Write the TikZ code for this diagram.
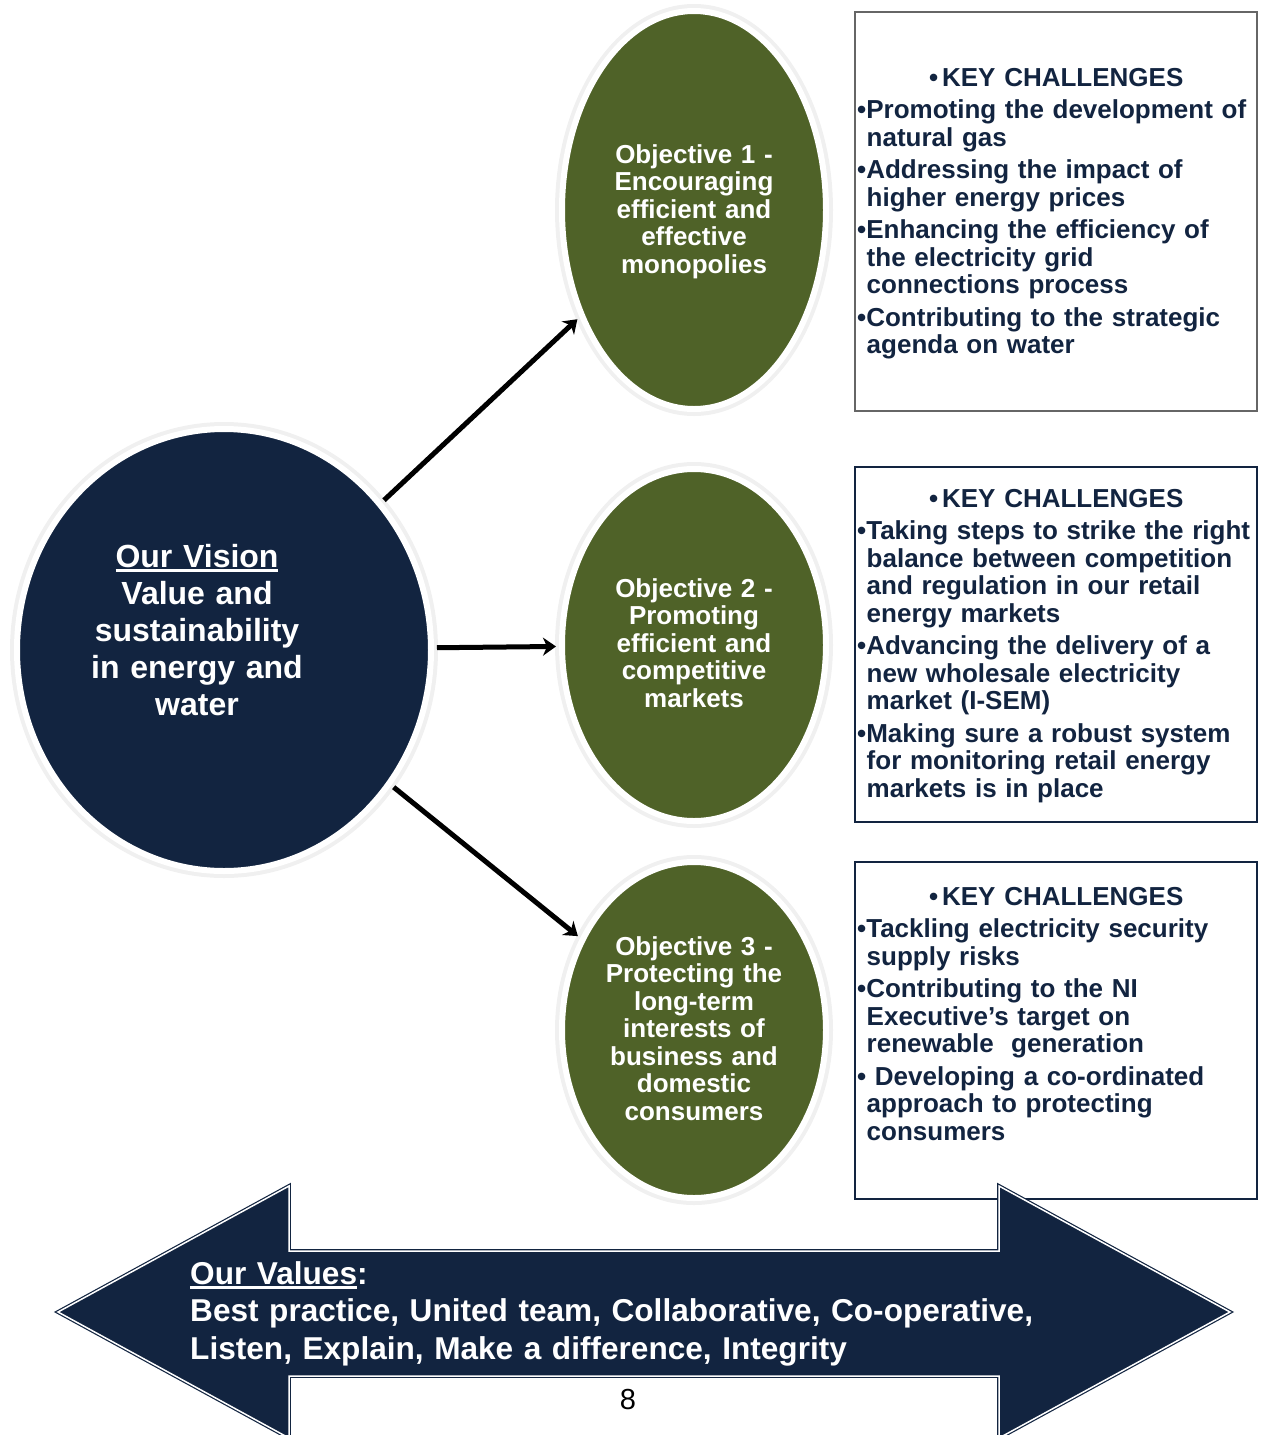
\documentclass[tikz,border=0pt]{standalone}
\usepackage{fontspec}
\setmainfont{Liberation Sans}
\usetikzlibrary{shapes.geometric,arrows.meta}

\definecolor{navy}{RGB}{18,36,64}
\definecolor{olive}{RGB}{79,98,40}

% underline with a fixed rule below the baseline
\newlength\ulw
\newcommand\ulined[1]{\settowidth\ulw{#1}\rlap{\rule[-5pt]{\ulw}{2.6pt}}#1}
% bullet item whose later lines hang under the text
\newcommand\kitem{\par\hangindent=9.5pt\hangafter=1\noindent}
% heading line of a challenges box
\newcommand\kchead{\hbox to 398pt{\hss\textbullet\kern4pt KEY CHALLENGES\hss}}

\begin{document}
\begin{tikzpicture}[x=1pt,y=-1pt,
  halo/.style={fill=black!6},
  vision/.style={ellipse, fill=navy, draw=white, line width=6pt,
    minimum width=414pt, minimum height=442pt},
  objective/.style={ellipse, fill=olive, draw=white, line width=6pt,
    minimum width=264pt},
  objtext/.style={text=white, font=\fontsize{26}{27.5}\selectfont\bfseries,
    align=center, text width=250pt, inner sep=0pt, anchor=base},
  kcbox/.style={draw=navy, line width=1.5pt, anchor=north west, inner sep=0pt},
  kctext/.style={text=navy,
    font=\fontsize{26}{27.5}\selectfont\bfseries\setlength\parskip{5pt},
    align=left, text width=420pt, inner sep=0pt, anchor=base west},
  link/.style={-{Stealth[length=13pt,width=18pt,inset=4pt]}, line width=5pt,
    shorten <=3pt, shorten >=3pt},
  valuesarrow/.style={fill=navy, draw=navy, double=white,
    double distance=1.5pt, line width=1.2pt, line join=miter},
]
\useasboundingbox (0,0) rectangle (1263,1435);

% soft rings behind the circles
\fill[halo] (224,650) ellipse [x radius=214pt, y radius=228pt];
\fill[halo] (694,210) ellipse [x radius=139pt, y radius=206pt];
\fill[halo] (694,645) ellipse [x radius=139pt, y radius=183pt];
\fill[halo] (694,1030) ellipse [x radius=139pt, y radius=175pt];

% vision and objectives
\node[vision] (vision) at (224,650) {};
\node[text=white, font=\fontsize{32}{37}\selectfont\bfseries, align=center,
  text width=280pt, inner sep=0pt, anchor=base] (visiontext) at (197,567)
  {\ulined{Our Vision}\\Value and\\sustainability\\in energy and\\water};

\node[objective, minimum height=398pt] (obj1) at (694,210) {};
\node[objtext] (obj1text) at (694,163)
  {Objective 1 -\\Encouraging\\efficient and\\effective\\monopolies};

\node[objective, minimum height=352pt] (obj2) at (694,645) {};
\node[objtext] (obj2text) at (694,597)
  {Objective 2 -\\Promoting\\efficient and\\competitive\\markets};

\node[objective, minimum height=336pt] (obj3) at (694,1030) {};
\node[objtext] (obj3text) at (694,955)
  {Objective 3 -\\Protecting the\\long-term\\interests of\\business and\\domestic\\consumers};

% connectors
\draw[link] (vision) -- (obj1);
\draw[link] (vision) -- (obj2);
\draw[link] (vision) -- (obj3);

% key challenges boxes
\node[kcbox, draw=black!60, line width=2pt, minimum width=402pt, minimum height=399pt]
  (kc1) at (854,11) {};
\node[kctext] (kc1text) at (857,86) {%
  \kchead
  \kitem\textbullet Promoting the development of\newline natural gas
  \kitem\textbullet Addressing the impact of\newline higher energy prices
  \kitem\textbullet Enhancing the efficiency of\newline the electricity grid\newline connections process
  \kitem\textbullet Contributing to the strategic\newline agenda on water\par};

\node[kcbox, minimum width=402pt, minimum height=355pt] (kc2) at (854,466) {};
\node[kctext] (kc2text) at (857,507) {%
  \kchead
  \kitem\textbullet Taking steps to strike the right\newline balance between competition\newline and regulation in our retail\newline energy markets
  \kitem\textbullet Advancing the delivery of a\newline new wholesale electricity\newline market (I-SEM)
  \kitem\textbullet Making sure a robust system\newline for monitoring retail energy\newline markets is in place\par};

\node[kcbox, minimum width=402pt, minimum height=337pt] (kc3) at (854,861) {};
\node[kctext] (kc3text) at (857,905) {%
  \kchead
  \kitem\textbullet Tackling electricity security\newline supply risks
  \kitem\textbullet Contributing to the NI\newline Executive's target on\newline renewable\ \ generation
  \kitem\textbullet\ Developing a co-ordinated\newline approach to protecting\newline consumers\par};

% values double arrow
\draw[valuesarrow] (58,1312) -- (289,1186) -- (289,1251) -- (999,1251)
  -- (999,1186) -- (1230,1312) -- (999,1438) -- (999,1376) -- (289,1376)
  -- (289,1438) -- cycle;
\node[text=white, font=\fontsize{31.6}{37.5}\selectfont\bfseries, align=left,
  text width=900pt, inner sep=0pt, anchor=base west] (values) at (190,1284)
  {\ulined{Our Values}:\\Best practice, United team, Collaborative, Co-operative,\\Listen, Explain, Make a difference, Integrity};

% page number
\node[font=\fontsize{29}{32}\selectfont, inner sep=0pt, anchor=base] (page) at (628,1409) {8};
\end{tikzpicture}
\end{document}
